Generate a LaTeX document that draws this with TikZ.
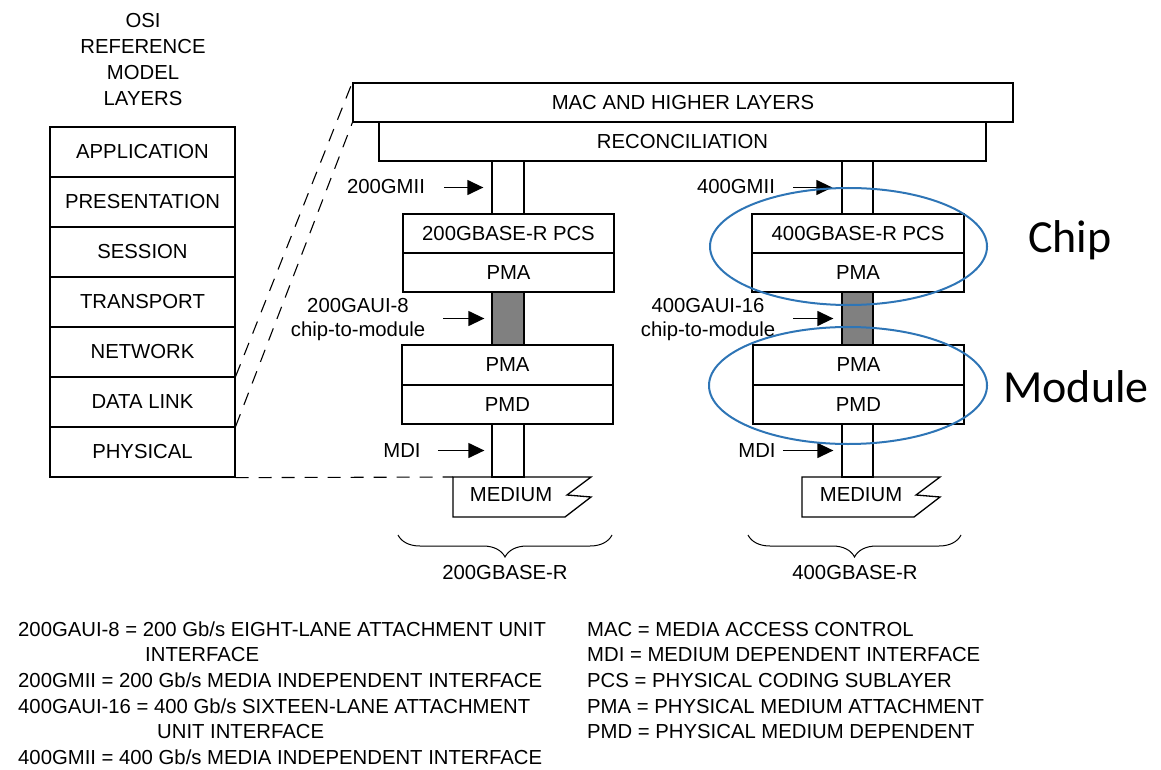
\documentclass[tikz,border=0pt]{standalone}
\usepackage{fontspec}
\setmainfont{Liberation Sans}
\newfontfamily\calibri{Carlito}
\usetikzlibrary{arrows.meta,decorations.pathreplacing,shapes.geometric}
\definecolor{annot}{RGB}{46,117,182}
\definecolor{bargray}{RGB}{128,128,128}
\begin{document}
\begin{tikzpicture}[x=1pt,y=-1pt,
  every node/.style={font=\fontsize{20.3}{24}\selectfont, inner sep=0pt},
  box/.style={draw, line width=1.3pt, rectangle},
  chan/.style={draw, line width=1.3pt, rectangle, minimum width=32pt, minimum height=53pt},
  greybar/.style={chan, fill=bargray},
  arr/.style={-{Triangle[length=16pt,width=15pt]}, line width=1.3pt},
  dashedline/.style={line width=1.1pt, dash pattern=on 13pt off 10pt},
  lgd/.style={anchor=base west},
  annotell/.style={draw=annot, line width=2pt, ellipse, inner sep=0pt},
  bigtxt/.style={font=\calibri\fontsize{46}{55}\selectfont, anchor=base},
  brc/.style={decorate, decoration={brace, amplitude=22pt}, line width=1pt}
]
\useasboundingbox (0,0) rectangle (1161,770);

% OSI stack
\node[align=center, anchor=north] (osititle) at (143,12.7) {OSI\\[2pt]REFERENCE\\[2pt]MODEL\\[2pt]LAYERS};
\foreach \nm/\txt/\yy in {app/APPLICATION/152, pres/PRESENTATION/202, sess/SESSION/252,
  trans/TRANSPORT/302, net/NETWORK/352, dl/DATA LINK/402, phys/PHYSICAL/452}{
  \node[box, minimum width=185pt, minimum height=50pt] (\nm) at (142.5,\yy) {\txt};
}

% upper layers
\node[box, minimum width=660pt, minimum height=39pt] (mac) at (683,102.5) {MAC AND HIGHER LAYERS};
\node[box, minimum width=607pt, minimum height=39pt] (recon) at (682.5,141.5) {RECONCILIATION};

% 200G column
\node[chan] (ch200) at (508,187.5) {};
\node[box, minimum width=211pt, minimum height=39pt] (pcs200) at (508.5,233.5) {200GBASE-R PCS};
\node[box, minimum width=211pt, minimum height=39pt] (pmaA200) at (508.5,272.5) {PMA};
\node[greybar] (aui200) at (508,318.5) {};
\node[box, minimum width=211pt, minimum height=40pt] (pmaB200) at (507.5,365) {PMA};
\node[box, minimum width=211pt, minimum height=39pt] (pmd200) at (507.5,404.5) {PMD};
\node[chan] (mdi200) at (508,450.5) {};
\coordinate (m200tl) at (453,477);
\draw[line width=1.3pt] (m200tl) -- (591,477) -- (567,495) -- (591,497) -- (565,517) -- (453,517) -- cycle;
\node (med200) at (511,495) {MEDIUM};

% 400G column
\node[chan, minimum width=31pt] (ch400) at (857.5,187.5) {};
\node[box, minimum width=212pt, minimum height=39pt] (pcs400) at (858,233.5) {400GBASE-R PCS};
\node[box, minimum width=212pt, minimum height=39pt] (pmaA400) at (858,272.5) {PMA};
\node[greybar, minimum width=31pt] (aui400) at (857.5,318.5) {};
\node[box, minimum width=211pt, minimum height=40pt] (pmaB400) at (858.5,365) {PMA};
\node[box, minimum width=211pt, minimum height=39pt] (pmd400) at (858.5,404.5) {PMD};
\node[chan, minimum width=31pt] (mdi400) at (857.5,450.5) {};
\coordinate (m400tl) at (802,477);
\draw[line width=1.3pt] (m400tl) -- (940,477) -- (916,495) -- (940,497) -- (914,517) -- (802,517) -- cycle;
\node (med400) at (861,495) {MEDIUM};

% interface labels and arrows
\node (l200gmii) at (386,187) {200GMII};
\draw[arr, shorten <=19pt, shorten >=8pt] (l200gmii.east |- ch200.west) -- (ch200.west);
\node (l400gmii) at (736,187) {400GMII};
\draw[arr, shorten <=18pt, shorten >=9pt] (l400gmii.east |- ch400.west) -- (ch400.west);
\node[align=center, anchor=north] (l200aui) at (358,297.7) {200GAUI-8\\chip-to-module};
\draw[arr, shorten <=18pt, shorten >=7pt] (l200aui.east |- aui200.west) -- (aui200.west);
\node[align=center, anchor=north] (l400aui) at (708,297.7) {400GAUI-16\\chip-to-module};
\draw[arr, shorten <=18pt, shorten >=8pt] (l400aui.east |- aui400.west) -- (aui400.west);
\node (lmdi200) at (402,451) {MDI};
\draw[arr, shorten <=17pt, shorten >=7pt] (lmdi200.east |- mdi200.west) -- (mdi200.west);
\node (lmdi400) at (757,451) {MDI};
\draw[arr, shorten <=7pt, shorten >=8pt] (lmdi400.east |- mdi400.west) -- (mdi400.west);

% dashed mapping lines
\draw[dashedline] (dl.north east) -- (mac.north west);
\draw[dashedline] (phys.north east) -- (mac.south west);
\draw[dashedline] (phys.south east) -- (m200tl);

% braces
\coordinate (b200r) at (612,535);
\coordinate (b200l) at (398,535);
\draw[brc] (b200r) -- (b200l);
\node (base200) at (505,573) {200GBASE-R};
\coordinate (b400r) at (961,535);
\coordinate (b400l) at (748,535);
\draw[brc] (b400r) -- (b400l);
\node (base400) at (855,573) {400GBASE-R};

% annotations
\node[annotell, minimum width=277pt, minimum height=117pt] (chipell) at (848.5,246.5) {};
\node[annotell, minimum width=278pt, minimum height=117pt] (modell) at (848,385.5) {};
\node[bigtxt] (chiptxt) at (1070,252) {Chip};
\node[bigtxt] (modtxt) at (1076,402) {Module};

% legend
\node[lgd] (g1) at (18,636) {200GAUI-8 = 200 Gb/s EIGHT-LANE ATTACHMENT UNIT};
\node[lgd] (g2) at (145,661) {INTERFACE};
\node[lgd] (g3) at (18,687) {200GMII = 200 Gb/s MEDIA INDEPENDENT INTERFACE};
\node[lgd] (g4) at (18,713) {400GAUI-16 = 400 Gb/s SIXTEEN-LANE ATTACHMENT};
\node[lgd] (g5) at (157,738) {UNIT INTERFACE};
\node[lgd] (g6) at (18,764) {400GMII = 400 Gb/s MEDIA INDEPENDENT INTERFACE};
\node[lgd] (r1) at (587,636) {MAC = MEDIA ACCESS CONTROL};
\node[lgd] (r2) at (587,661) {MDI = MEDIUM DEPENDENT INTERFACE};
\node[lgd] (r3) at (587,687) {PCS = PHYSICAL CODING SUBLAYER};
\node[lgd] (r4) at (587,713) {PMA = PHYSICAL MEDIUM ATTACHMENT};
\node[lgd] (r5) at (587,738) {PMD = PHYSICAL MEDIUM DEPENDENT};
\end{tikzpicture}
\end{document}
